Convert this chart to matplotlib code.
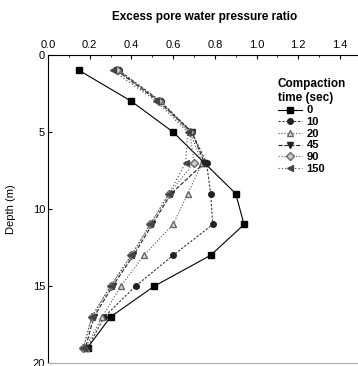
import matplotlib
matplotlib.use('Agg')
import matplotlib.pyplot as plt
from matplotlib.ticker import MultipleLocator

plt.rcParams['font.family'] = ['Liberation Sans', 'DejaVu Sans']

# Depth of each reading (m)
depth = [1, 3, 5, 7, 9, 11, 13, 15, 17, 19]

# Excess pore water pressure ratio for each compaction time (sec)
t0 = [0.15, 0.40, 0.60, 0.75, 0.90, 0.94, 0.78, 0.51, 0.30, 0.19]
t10 = [0.34, 0.54, 0.69, 0.76, 0.78, 0.79, 0.60, 0.42, 0.27, 0.19]
t20 = [0.34, 0.54, 0.68, 0.74, 0.67, 0.60, 0.46, 0.35, 0.26, 0.18]
t45 = [0.33, 0.53, 0.69, 0.75, 0.59, 0.50, 0.41, 0.31, 0.22, 0.18]
t90 = [0.33, 0.53, 0.68, 0.70, 0.58, 0.49, 0.40, 0.30, 0.21, 0.17]
t150 = [0.31, 0.52, 0.67, 0.66, 0.58, 0.49, 0.40, 0.30, 0.21, 0.17]

labels = ['0', '10', '20', '45', '90', '150']

fig = plt.figure(figsize=(3.58, 3.66), dpi=100)
ax = fig.add_axes([0.134, 0.008, 0.874, 0.8415])

ax.plot(t0, depth, '-', color='black', lw=0.8, marker='s', ms=5,
        mfc='black', mec='black', label=labels[0])
ax.plot(t10, depth, linestyle=(0, (2, 1.5)), color='#333333', lw=0.8, marker='o', ms=4,
        mfc='#222222', mec='#222222', label=labels[1])
ax.plot(t20, depth, ':', color='#555555', lw=0.8, marker='^', ms=4.5,
        mfc='#dddddd', mec='#666666', label=labels[2])
ax.plot(t45, depth, '--', color='#222222', lw=0.8, marker='v', ms=5,
        mfc='#222222', mec='#222222', label=labels[3])
ax.plot(t90, depth, ':', color='#555555', lw=0.8, marker='D', ms=4,
        mfc='#cccccc', mec='#666666', label=labels[4])
ax.plot(t150, depth, linestyle=(0, (1, 2)), color='#444444', lw=0.8, marker='<', ms=4.5,
        mfc='#444444', mec='#444444', label=labels[5])

ax.set_xlim(0, 1.5)
ax.set_ylim(20, 0)
ax.xaxis.tick_top()
ax.xaxis.set_label_position('top')
ax.set_xticks([0.0, 0.2, 0.4, 0.6, 0.8, 1.0, 1.2, 1.4])
ax.set_xticklabels(['0.0', '0.2', '0.4', '0.6', '0.8', '1.0', '1.2', '1.4'])
ax.xaxis.set_minor_locator(MultipleLocator(0.1))
ax.set_yticks([0, 5, 10, 15, 20])
ax.tick_params(axis='both', which='major', direction='in', length=3, width=0.8,
               labelsize=8, pad=2)
ax.tick_params(axis='x', which='minor', direction='in', length=1.5, width=0.6)
ax.tick_params(axis='x', pad=4)

ax.spines['right'].set_visible(False)
ax.spines['bottom'].set_color('#aaaaaa')
ax.spines['top'].set_linewidth(0.8)
ax.spines['left'].set_linewidth(0.8)

ax.set_xlabel('Excess pore water pressure ratio', fontsize=8.5, fontweight='bold', labelpad=14)
ax.set_ylabel('Depth (m)', fontsize=8, labelpad=12)

leg = ax.legend(title='Compaction\ntime (sec)', loc='upper left',
                bbox_to_anchor=(0.776, 0.787), bbox_transform=fig.transFigure,
                frameon=False, fontsize=8, handlelength=2.2, handletextpad=0.4,
                labelspacing=0.15, borderpad=0, borderaxespad=0)
leg._legend_box.align = 'left'
leg.get_title().set_fontweight('bold')
leg.get_title().set_fontsize(8.5)
for t in leg.get_texts():
    t.set_fontweight('bold')

fig.savefig('out.png', dpi=100)
